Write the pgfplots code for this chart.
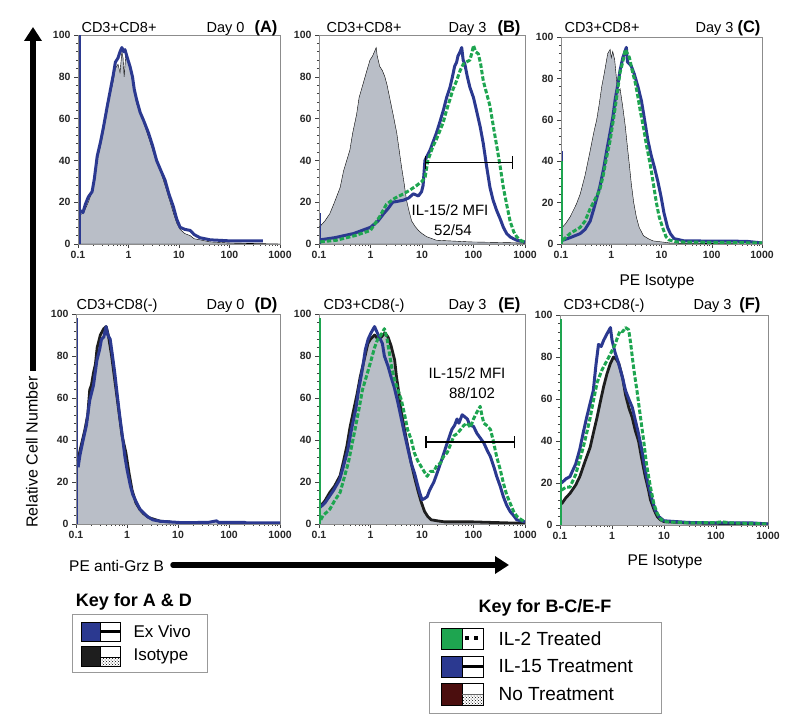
\documentclass[border=0pt]{standalone}
\usepackage{fontspec}
\setmainfont{Liberation Sans}
\usepackage{pgfplots}
\pgfplotsset{compat=1.18}
\usetikzlibrary{arrows.meta,patterns}
\definecolor{myblue}{RGB}{43,57,144}
\definecolor{mygreen}{RGB}{30,165,80}
\definecolor{grayfill}{RGB}{185,190,199}
\definecolor{maroon}{RGB}{75,14,14}
\definecolor{isoblack}{RGB}{30,30,30}
\newcommand{\tickfont}{\fontsize{10.5}{12}\selectfont\bfseries}
\newcommand{\tfont}{\fontsize{14.5}{16}\selectfont}
\newcommand{\pfont}{\fontsize{16.5}{18}\selectfont\bfseries}
\begin{document}
\begin{tikzpicture}
\useasboundingbox (0pt,0pt) rectangle (800pt,720pt);
% ---------------- Panel A ----------------
\begin{axis}[xmode=log, xmin=0.1, xmax=1000, ymin=0, ymax=100, scale only axis, anchor=south west, at={(78pt,476pt)}, width=202pt, height=209pt,
  xtick={0.1,1,10,100,1000}, xticklabels={0.1,1,10,100,1000}, ytick={0,20,40,60,80,100}, yticklabels={0,20,40,60,80,100},
  minor y tick num=4, tick align=outside, tick pos=left, major tick length=4pt, minor tick length=2.2pt,
  axis line style={draw=black!45, line width=0.8pt}, tick style={black!75, line width=0.5pt}, ticklabel style={font=\tickfont, text=black!85}]
\addplot[fill=grayfill, draw=black, line width=0.4pt] coordinates {(0.111,14)(0.13,15)(0.16,20)(0.19,25)(0.24,40)(0.28,47)(0.32,54)(0.38,64)(0.44,72)(0.50,78)(0.55,84)(0.62,86)(0.68,82)(0.74,92)(0.78,89)(0.82,80)(0.88,90)(0.95,88)(1.07,84)(1.2,78)(1.45,67)(1.7,63)(2.0,58)(2.5,51)(3.0,45)(3.6,39)(4.4,34)(5.3,28)(6.3,22)(7.7,15)(9,10)(10.5,7)(13,5)(16.6,4)(20,2.5)(26,2)(41,1)(100,0.5)(1000,0)} \closedcycle;
\addplot[color=myblue, line width=3pt, line join=round] coordinates {(0.113,16)(0.125,15)(0.14,19)(0.16,22.5)(0.19,25)(0.21,31)(0.24,42)(0.28,49)(0.32,56)(0.38,66)(0.44,74)(0.50,81)(0.55,87)(0.62,89)(0.68,92)(0.74,94)(0.80,92)(0.85,93)(0.95,89)(1.07,85)(1.2,80)(1.3,74)(1.45,69)(1.7,63)(2.0,59)(2.5,53)(3.0,47)(3.6,40)(4.4,35)(5.3,30.5)(6.3,24)(7.7,18)(9,12)(10.5,8)(13,7)(16.6,6.5)(20,4.5)(26,3)(33,2.5)(41,2)(100,1.5)(300,1.5)(460,1.5)};
\addplot[color=myblue, line width=1.6pt] coordinates {(0.111,0)(0.111,100)};
\end{axis}
% ---------------- Panel B ----------------
\begin{axis}[xmode=log, xmin=0.1, xmax=1000, ymin=0, ymax=100, scale only axis, anchor=south west, at={(319pt,476pt)}, width=206pt, height=209pt,
  xtick={0.1,1,10,100,1000}, xticklabels={0.1,1,10,100,1000}, ytick={0,20,40,60,80,100}, yticklabels={0,20,40,60,80,100},
  minor y tick num=4, tick align=outside, tick pos=left, major tick length=4pt, minor tick length=2.2pt,
  axis line style={draw=black!45, line width=0.8pt}, tick style={black!75, line width=0.5pt}, ticklabel style={font=\tickfont, text=black!85}]
\addplot[fill=grayfill, draw=black, line width=0.4pt] coordinates {(0.101,8)(0.13,11)(0.162,14.5)(0.2,20)(0.257,27)(0.3,35)(0.398,45)(0.45,53)(0.537,62)(0.6,70)(0.724,77)(0.85,83)(0.977,88)(1.1,90)(1.29,94)(1.35,90)(1.51,85)(1.7,83)(1.9,80)(2.1,76)(2.4,69)(2.8,61)(3.24,53)(3.6,45)(4.0,37)(4.5,29)(5.0,21)(5.7,15)(6.3,11)(7.3,8.5)(8.5,6.5)(10,5)(12.3,3.5)(19,1.8)(85,1)(930,0.5)(1000,0)} \closedcycle;
\addplot[color=myblue, line width=3pt, line join=round] coordinates {(0.105,2)(0.2,3)(0.47,5)(1.0,8)(1.4,11)(1.8,14.5)(2.2,17)(2.7,20)(3.5,20.5)(4.4,21)(5.5,22)(6.8,24)(8.5,23)(9.8,25)(10.5,28)(11.4,40)(12.5,42)(14.4,45)(16.5,49)(19,53)(22,58)(26,64)(30,70)(35,75)(39,80)(43,85)(47,87)(50,90)(55,92)(59,94)(63,88)(68,86)(76,80)(85,75)(100,70)(114,64)(135,56)(155,48)(180,37)(209,27)(240,21)(282,16)(330,12)(380,8)(440,5)(513,3.4)(600,2.5)(692,1.8)(1000,1)};
\addplot[color=myblue, line width=1.6pt] coordinates {(0.106,0)(0.106,15)};
\addplot[color=mygreen, line width=3pt, line join=round, dash pattern=on 4.5pt off 2pt] coordinates {(0.106,1)(0.22,1.8)(0.5,4)(1.0,6.5)(1.5,13)(2.04,19)(3.0,22)(4.4,24)(6,26)(7.9,28)(10,30)(11.5,32)(13,40)(14.4,43)(16.5,47)(19,50)(22.9,55)(25.7,58)(30,64)(34.7,69)(40,74)(46.8,78)(55,83)(63,86)(72,87)(85,88)(92,91)(100,95)(110,92)(124,91)(138,86)(155,78)(180,72)(209,66)(240,57)(282,47)(330,37)(380,27)(440,19)(513,11)(600,6)(692,3.4)(850,1.5)(1000,1)};
\addplot[black, line width=1.2pt] coordinates {(11.5,39)(575,39)};
\addplot[black, line width=1.2pt] coordinates {(11.5,36)(11.5,42)};
\addplot[black, line width=1.2pt] coordinates {(575,36)(575,42)};
\node[font=\fontsize{15}{17}\selectfont] at (axis cs:35,16.3) {IL-15/2 MFI};
\node[font=\fontsize{15}{17}\selectfont] at (axis cs:40,6.7) {52/54};
\end{axis}
% ---------------- Panel C ----------------
\begin{axis}[xmode=log, xmin=0.1, xmax=1000, ymin=0, ymax=100, scale only axis, anchor=south west, at={(561pt,476pt)}, width=201pt, height=207pt,
  xtick={0.1,1,10,100,1000}, xticklabels={0.1,1,10,100,1000}, ytick={0,20,40,60,80,100}, yticklabels={0,20,40,60,80,100},
  minor y tick num=4, tick align=outside, tick pos=left, major tick length=4pt, minor tick length=2.2pt,
  axis line style={draw=black!45, line width=0.8pt}, tick style={black!75, line width=0.5pt}, ticklabel style={font=\tickfont, text=black!85}]
\addplot[fill=grayfill, draw=black, line width=0.4pt] coordinates {(0.106,8)(0.125,10)(0.151,13)(0.2,19)(0.24,24)(0.3,33)(0.38,45)(0.45,54)(0.513,60)(0.58,68)(0.646,76)(0.72,82)(0.85,92)(0.95,94)(1.0,90)(1.07,93)(1.17,89)(1.35,73)(1.5,75)(1.7,66)(1.9,57)(2.14,45)(2.3,38)(2.51,29)(2.8,20)(3.16,13)(3.6,8)(4.37,4)(5.5,2.5)(6.76,1.5)(10,1)(14.8,0.5)(1000,0)} \closedcycle;
\addplot[color=myblue, line width=1.6pt] coordinates {(0.107,0)(0.107,45)};
\addplot[color=myblue, line width=3pt, line join=round] coordinates {(0.108,1.8)(0.15,3)(0.24,5)(0.3,7)(0.38,11)(0.45,17)(0.59,27.5)(0.7,36)(0.81,45)(0.95,54)(1.07,61)(1.2,70)(1.35,77)(1.5,84)(1.7,90)(2.0,95)(2.1,88)(2.3,87)(2.5,86)(2.88,82)(3.4,76)(4.0,69)(4.6,60)(5.37,50)(6.2,43)(7.24,37)(8.5,30)(9.77,23)(11.2,15)(13.2,8)(15,5)(17.8,2.6)(28.2,1.5)(490,1.3)(1000,0.5)};
\addplot[color=mygreen, line width=1.6pt] coordinates {(0.104,0)(0.104,40)};
\addplot[color=mygreen, line width=3pt, line join=round, dash pattern=on 4.5pt off 2pt] coordinates {(0.108,1.8)(0.15,5)(0.24,8)(0.3,11)(0.38,17)(0.59,26)(0.69,33)(0.81,42)(0.95,50)(1.07,58)(1.2,66)(1.35,75)(1.5,83)(1.7,88)(1.9,94)(2.1,92)(2.3,90)(2.6,84)(3.0,78)(3.4,71)(3.8,64)(4.4,56)(5.0,48)(5.9,39)(6.8,30)(7.9,20)(9.0,13)(10.5,8)(12.3,3.5)(14,2)(20,1)(1000,0.5)};
\end{axis}
% ---------------- Panel D ----------------
\begin{axis}[xmode=log, xmin=0.1, xmax=1000, ymin=0, ymax=100, scale only axis, anchor=south west, at={(76pt,196pt)}, width=204pt, height=210pt,
  xtick={0.1,1,10,100,1000}, xticklabels={0.1,1,10,100,1000}, ytick={0,20,40,60,80,100}, yticklabels={0,20,40,60,80,100},
  minor y tick num=4, tick align=outside, tick pos=left, major tick length=4pt, minor tick length=2.2pt,
  axis line style={draw=black!45, line width=0.8pt}, tick style={black!75, line width=0.5pt}, ticklabel style={font=\tickfont, text=black!85}]
\addplot[fill=grayfill, draw=none] coordinates {(0.11,27)(0.12,33)(0.138,40)(0.16,48)(0.186,59)(0.22,68)(0.257,78)(0.29,84)(0.316,88)(0.35,91)(0.389,93)(0.42,92)(0.468,88)(0.52,80)(0.575,72)(0.64,62)(0.724,51)(0.81,42)(0.91,32)(1.0,26)(1.17,18)(1.3,13)(1.55,10)(1.8,7)(2.46,3.7)(3.2,2)(4.5,1.3)(12.6,0.6)(1000,0)} \closedcycle;
\addplot[color=isoblack, line width=2.8pt, line join=round] coordinates {(0.11,30)(0.12,35)(0.15,45)(0.17,52)(0.186,64)(0.2,66)(0.22,72)(0.24,76)(0.26,84)(0.3,90)(0.35,93)(0.39,94)(0.43,90)(0.5,80)(0.58,68)(0.69,54)(0.8,42)(0.95,34)(1.1,24)(1.26,16)(1.5,10)(1.78,7)(2.1,5)(2.7,3)(4.5,1.3)(7,1)};
\addplot[color=myblue, line width=3pt, line join=round] coordinates {(0.11,27)(0.12,33)(0.138,40)(0.16,47)(0.186,59)(0.22,66)(0.257,78)(0.29,83)(0.316,88)(0.35,89)(0.389,94)(0.42,90)(0.468,88)(0.52,80)(0.575,72)(0.64,62)(0.724,51)(0.81,42)(0.91,32)(1.0,26)(1.17,18)(1.3,14)(1.55,10)(1.8,7)(2.46,3.7)(3.2,2)(4.5,1.3)(7,1)(12.6,0.6)(40,0.8)(57,1.5)(62,0.8)(200,0.8)(220,0.5)(1000,0.5)};
\addplot[color=myblue, line width=1.6pt] coordinates {(0.107,0)(0.107,98)};
\end{axis}
% ---------------- Panel E ----------------
\begin{axis}[xmode=log, xmin=0.1, xmax=1000, ymin=0, ymax=100, scale only axis, anchor=south west, at={(319pt,196pt)}, width=206pt, height=210pt,
  xtick={0.1,1,10,100,1000}, xticklabels={0.1,1,10,100,1000}, ytick={0,20,40,60,80,100}, yticklabels={0,20,40,60,80,100},
  minor y tick num=4, tick align=outside, tick pos=left, major tick length=4pt, minor tick length=2.2pt,
  axis line style={draw=black!45, line width=0.8pt}, tick style={black!75, line width=0.5pt}, ticklabel style={font=\tickfont, text=black!85}]
\addplot[fill=grayfill, draw=none] coordinates {(0.106,8.4)(0.13,11)(0.162,15)(0.2,18)(0.257,23)(0.3,30)(0.347,37)(0.4,46)(0.468,54)(0.55,62)(0.631,70)(0.75,78)(0.891,86)(1.0,88)(1.2,90)(1.4,88)(1.62,89)(1.9,91)(2.19,89)(2.5,85)(2.95,78)(3.2,70)(3.63,61)(4.0,53)(4.57,45)(5.3,37)(6.17,29)(7.2,22)(8.32,16)(9.5,11)(11.2,6)(13,3.5)(15.1,2)(20,1.5)(27.5,1)(100,1)(500,0.5)(1000,0.5)} \closedcycle;
\addplot[color=isoblack, line width=2.8pt, line join=round] coordinates {(0.106,8.4)(0.13,11)(0.162,15)(0.2,18)(0.257,23)(0.3,30)(0.347,37)(0.4,46)(0.468,54)(0.55,62)(0.631,70)(0.75,78)(0.891,86)(1.0,88)(1.2,90)(1.4,88)(1.62,89)(1.9,91)(2.19,89)(2.5,85)(2.95,78)(3.2,70)(3.63,61)(4.0,53)(4.57,45)(5.3,37)(6.17,29)(7.2,22)(8.32,16)(9.5,11)(11.2,6)(13,3.5)(15.1,2)(20,1.5)(27.5,1)(100,1)(500,0.5)(1000,0.5)};
\addplot[color=myblue, line width=3pt, line join=round] coordinates {(0.106,8)(0.13,10)(0.191,16)(0.25,21)(0.295,27)(0.36,35)(0.427,45)(0.52,55)(0.589,64)(0.7,74)(0.794,83)(0.9,88)(1.023,91)(1.2,94)(1.3,92)(1.48,89)(1.7,86)(1.86,80)(2.2,75)(2.51,70)(2.9,65)(3.39,58)(3.9,51)(4.57,43)(5.3,36)(6.17,29)(7.2,24)(8.32,18)(9.0,15)(10,11.6)(11,12)(12.59,13)(14,16)(16.98,20)(19.5,24)(22.91,29)(26,33)(30.9,38.6)(38,45)(43,47)(47.9,50)(52,48)(60.3,52)(68,51)(75.9,50)(85,47)(100,46.5)(117.5,43)(135,41)(158.5,38.6)(185,35)(213.8,32)(250,27)(281.8,22.7)(330,18)(380.2,13)(440,9)(512.9,6)(600,4)(691.8,2)(1000,1)};
\addplot[color=mygreen, line width=3pt, line join=round, dash pattern=on 4.5pt off 2pt] coordinates {(0.108,2)(0.12,4)(0.162,7)(0.2,11)(0.257,15)(0.3,21)(0.37,29)(0.43,37)(0.5,45)(0.6,55)(0.7,64)(0.85,71)(1.0,77)(1.2,84)(1.38,88)(1.6,90)(1.86,93)(2.1,88)(2.34,81)(2.6,74)(3.0,68)(3.5,63)(3.98,59)(4.6,52)(5.25,45)(6.2,40)(7.08,34)(8.3,30)(9.55,27.5)(11,25)(12.59,22.7)(14.5,25)(16.98,25)(19.5,28)(22.91,29)(26,32)(30.9,34)(36,38)(41.69,42)(48,43)(56.23,45)(65,47)(75.86,48)(87,46)(100,50)(115,53)(134.9,56)(145,52)(158.5,48)(180,47)(213.8,45)(240,40)(281.8,32)(330,26)(380.2,19.5)(440,14)(512.9,10)(600,6)(691.8,3.7)(850,2)(1000,1)};
\addplot[color=mygreen, line width=1.6pt] coordinates {(0.105,0)(0.105,98)};
\addplot[black, line width=1.2pt] coordinates {(12,39)(615,39)};
\addplot[black, line width=1.2pt] coordinates {(12,36)(12,42)};
\addplot[black, line width=1.2pt] coordinates {(615,36)(615,42)};
\node[font=\fontsize{15}{17}\selectfont] at (axis cs:75,71.9) {IL-15/2 MFI};
\node[font=\fontsize{15}{17}\selectfont] at (axis cs:93.5,62.4) {88/102};
\end{axis}
% ---------------- Panel F ----------------
\begin{axis}[xmode=log, xmin=0.1, xmax=1000, ymin=0, ymax=100, scale only axis, anchor=south west, at={(560pt,195pt)}, width=208pt, height=210pt,
  xtick={0.1,1,10,100,1000}, xticklabels={0.1,1,10,100,1000}, ytick={0,20,40,60,80,100}, yticklabels={0,20,40,60,80,100},
  minor y tick num=4, tick align=outside, tick pos=left, major tick length=4pt, minor tick length=2.2pt,
  axis line style={draw=black!45, line width=0.8pt}, tick style={black!75, line width=0.5pt}, ticklabel style={font=\tickfont, text=black!85}]
\addplot[fill=grayfill, draw=none] coordinates {(0.107,10)(0.13,13)(0.155,15)(0.2,19)(0.24,23)(0.3,30)(0.38,37)(0.45,45)(0.513,51)(0.6,59)(0.692,66)(0.8,72)(0.933,77)(1.07,80)(1.2,79)(1.35,77)(1.6,70)(1.82,62)(2.1,56)(2.455,51)(2.8,45)(3.236,40)(3.7,32)(4.365,23)(5.0,17)(5.495,12)(6.5,7)(7.413,4)(8.5,2.5)(10,1.6)(30,1)(100,0.8)(1000,0.5)} \closedcycle;
\addplot[color=isoblack, line width=2.8pt, line join=round] coordinates {(0.107,10)(0.13,13)(0.155,15)(0.2,19)(0.24,23)(0.3,30)(0.38,37)(0.45,45)(0.513,51)(0.6,59)(0.692,66)(0.8,72)(0.933,77)(1.07,80)(1.2,79)(1.35,77)(1.6,70)(1.82,62)(2.1,56)(2.455,51)(2.8,45)(3.236,40)(3.7,32)(4.365,23)(5.0,17)(5.495,12)(6.5,7)(7.413,4)(8.5,2.5)(10,1.6)(30,1)(100,0.8)(1000,0.5)};
\addplot[color=myblue, line width=3pt, line join=round] coordinates {(0.107,20)(0.13,22)(0.155,23)(0.2,29)(0.24,36)(0.28,44)(0.324,51)(0.38,58)(0.437,64)(0.49,76)(0.55,86)(0.62,85)(0.692,88)(0.8,91)(0.933,94)(1.0,88)(1.148,82)(1.3,78)(1.445,74)(1.6,70)(1.82,64)(2.1,60)(2.455,56)(2.8,50)(3.236,43.5)(3.8,35)(4.365,26)(5.0,19)(5.888,12)(6.8,7)(7.943,4)(10,2)(30,1.2)(100,1)(489.8,1)(1000,0.5)};
\addplot[color=mygreen, line width=3pt, line join=round, dash pattern=on 4.5pt off 2pt] coordinates {(0.107,16.6)(0.13,18)(0.155,18)(0.2,24)(0.24,31)(0.28,37)(0.324,43.5)(0.38,51)(0.437,59)(0.52,68)(0.646,74)(0.75,77)(0.871,80)(1.0,83)(1.148,86)(1.3,90)(1.445,92.5)(1.6,92)(1.82,94)(2.089,93)(2.3,86)(2.455,80)(2.7,72)(3.02,64)(3.5,52)(4.074,40)(4.6,29)(5.495,18)(6.4,10)(7.413,5.5)(8.5,3)(10,1.6)(30,1)(100,1.2)(130,1.5)(200,1)(1000,0.5)};
\addplot[color=mygreen, line width=1.6pt] coordinates {(0.105,0)(0.105,98)};
\end{axis}
% ---------------- Panel titles ----------------
\node[anchor=base west, font=\tfont] at (78pt,687pt) {CD3+CD8+};
\node[anchor=base east, font=\tfont] at (248pt,687pt) {Day 0};
\node[anchor=base east, font=\pfont] at (281pt,687pt) {(A)};
\node[anchor=base west, font=\tfont] at (323pt,687pt) {CD3+CD8+};
\node[anchor=base east, font=\tfont] at (490pt,687pt) {Day 3};
\node[anchor=base east, font=\pfont] at (524pt,687pt) {(B)};
\node[anchor=base west, font=\tfont] at (561pt,687pt) {CD3+CD8+};
\node[anchor=base east, font=\tfont] at (737pt,687pt) {Day 3};
\node[anchor=base east, font=\pfont] at (764pt,687pt) {(C)};
\node[anchor=base west, font=\tfont] at (73pt,410pt) {CD3+CD8(-)};
\node[anchor=base east, font=\tfont] at (248pt,410pt) {Day 0};
\node[anchor=base east, font=\pfont] at (281pt,410pt) {(D)};
\node[anchor=base west, font=\tfont] at (320pt,410pt) {CD3+CD8(-)};
\node[anchor=base east, font=\tfont] at (490pt,410pt) {Day 3};
\node[anchor=base east, font=\pfont] at (524pt,410pt) {(E)};
\node[anchor=base west, font=\tfont] at (560pt,410pt) {CD3+CD8(-)};
\node[anchor=base east, font=\tfont] at (735pt,410pt) {Day 3};
\node[anchor=base east, font=\pfont] at (764pt,410pt) {(F)};
% ---------------- axis captions and arrows ----------------
\node[font=\fontsize{15.5}{17}\selectfont] at (657pt,438pt) {PE Isotype};
\node[font=\fontsize{15.5}{17}\selectfont] at (665pt,158pt) {PE Isotype};
\node[rotate=90, font=\fontsize{16}{18}\selectfont] at (32pt,268pt) {Relative Cell Number};
\draw[line width=5.5pt, -{Triangle[length=14pt,width=17pt]}] (33pt,349pt) -- (33pt,693pt);
\node[anchor=west, font=\fontsize{15.5}{17}\selectfont, inner sep=0pt] at (69pt,154.5pt) {PE anti-Grz B};
\draw[line width=5.5pt, line cap=round, -{Triangle[length=14pt,width=17pt]}] (173pt,155pt) -- (509pt,155pt);
% ---------------- Key A ----------------
\node[anchor=base, font=\fontsize{18}{20}\selectfont\bfseries] at (134pt,113pt) {Key for A \& D};
\draw[black!40, line width=0.8pt, fill=white] (72pt,48pt) rectangle (207pt,106pt);
\fill[myblue] (81pt,79pt) rectangle (100pt,98pt);
\draw[black, line width=0.7pt] (81pt,79pt) rectangle (120pt,98pt);
\draw[black, line width=0.7pt] (100pt,79pt) -- (100pt,98pt);
\fill[black] (100pt,86.8pt) rectangle (120pt,90.2pt);
\node[anchor=west, font=\fontsize{17}{19}\selectfont] at (130pt,88.5pt) {Ex Vivo};
\fill[isoblack] (81pt,54pt) rectangle (100pt,74pt);
\fill[pattern=crosshatch dots, pattern color=black] (100pt,54pt) rectangle (120pt,63pt);
\draw[black, line width=0.7pt] (81pt,54pt) rectangle (120pt,74pt);
\draw[black, line width=0.7pt] (100pt,54pt) -- (100pt,74pt);
\draw[black, line width=0.5pt] (100pt,63pt) -- (120pt,63pt);
\node[anchor=west, font=\fontsize{17}{19}\selectfont] at (130pt,63.5pt) {Isotype};
% ---------------- Key B ----------------
\node[anchor=base, font=\fontsize{18}{20}\selectfont\bfseries] at (545pt,107pt) {Key for B-C/E-F};
\draw[black!40, line width=0.8pt, fill=white] (429pt,7pt) rectangle (661pt,98pt);
\fill[mygreen] (441pt,71pt) rectangle (462pt,92pt);
\draw[black, line width=0.7pt] (441pt,71pt) rectangle (483pt,92pt);
\draw[black, line width=0.7pt] (462pt,71pt) -- (462pt,92pt);
\fill[black] (465pt,79.5pt) rectangle (469pt,83.5pt);
\fill[black] (474pt,79.5pt) rectangle (478pt,83.5pt);
\node[anchor=west, font=\fontsize{19}{21}\selectfont] at (495pt,81.5pt) {IL-2 Treated};
\fill[myblue] (441pt,43pt) rectangle (462pt,64pt);
\draw[black, line width=0.7pt] (441pt,43pt) rectangle (483pt,64pt);
\draw[black, line width=0.7pt] (462pt,43pt) -- (462pt,64pt);
\fill[black] (462pt,51.7pt) rectangle (483pt,55.3pt);
\node[anchor=west, font=\fontsize{19}{21}\selectfont] at (495pt,53.5pt) {IL-15 Treatment};
\fill[maroon] (441pt,15pt) rectangle (462pt,37pt);
\fill[pattern=crosshatch dots, pattern color=black] (462pt,15pt) rectangle (483pt,26pt);
\draw[black, line width=0.7pt] (441pt,15pt) rectangle (483pt,37pt);
\draw[black, line width=0.7pt] (462pt,15pt) -- (462pt,37pt);
\draw[black!60, line width=0.4pt] (462pt,26pt) -- (483pt,26pt);
\node[anchor=west, font=\fontsize{19}{21}\selectfont] at (495pt,26pt) {No Treatment};
\end{tikzpicture}
\end{document}
